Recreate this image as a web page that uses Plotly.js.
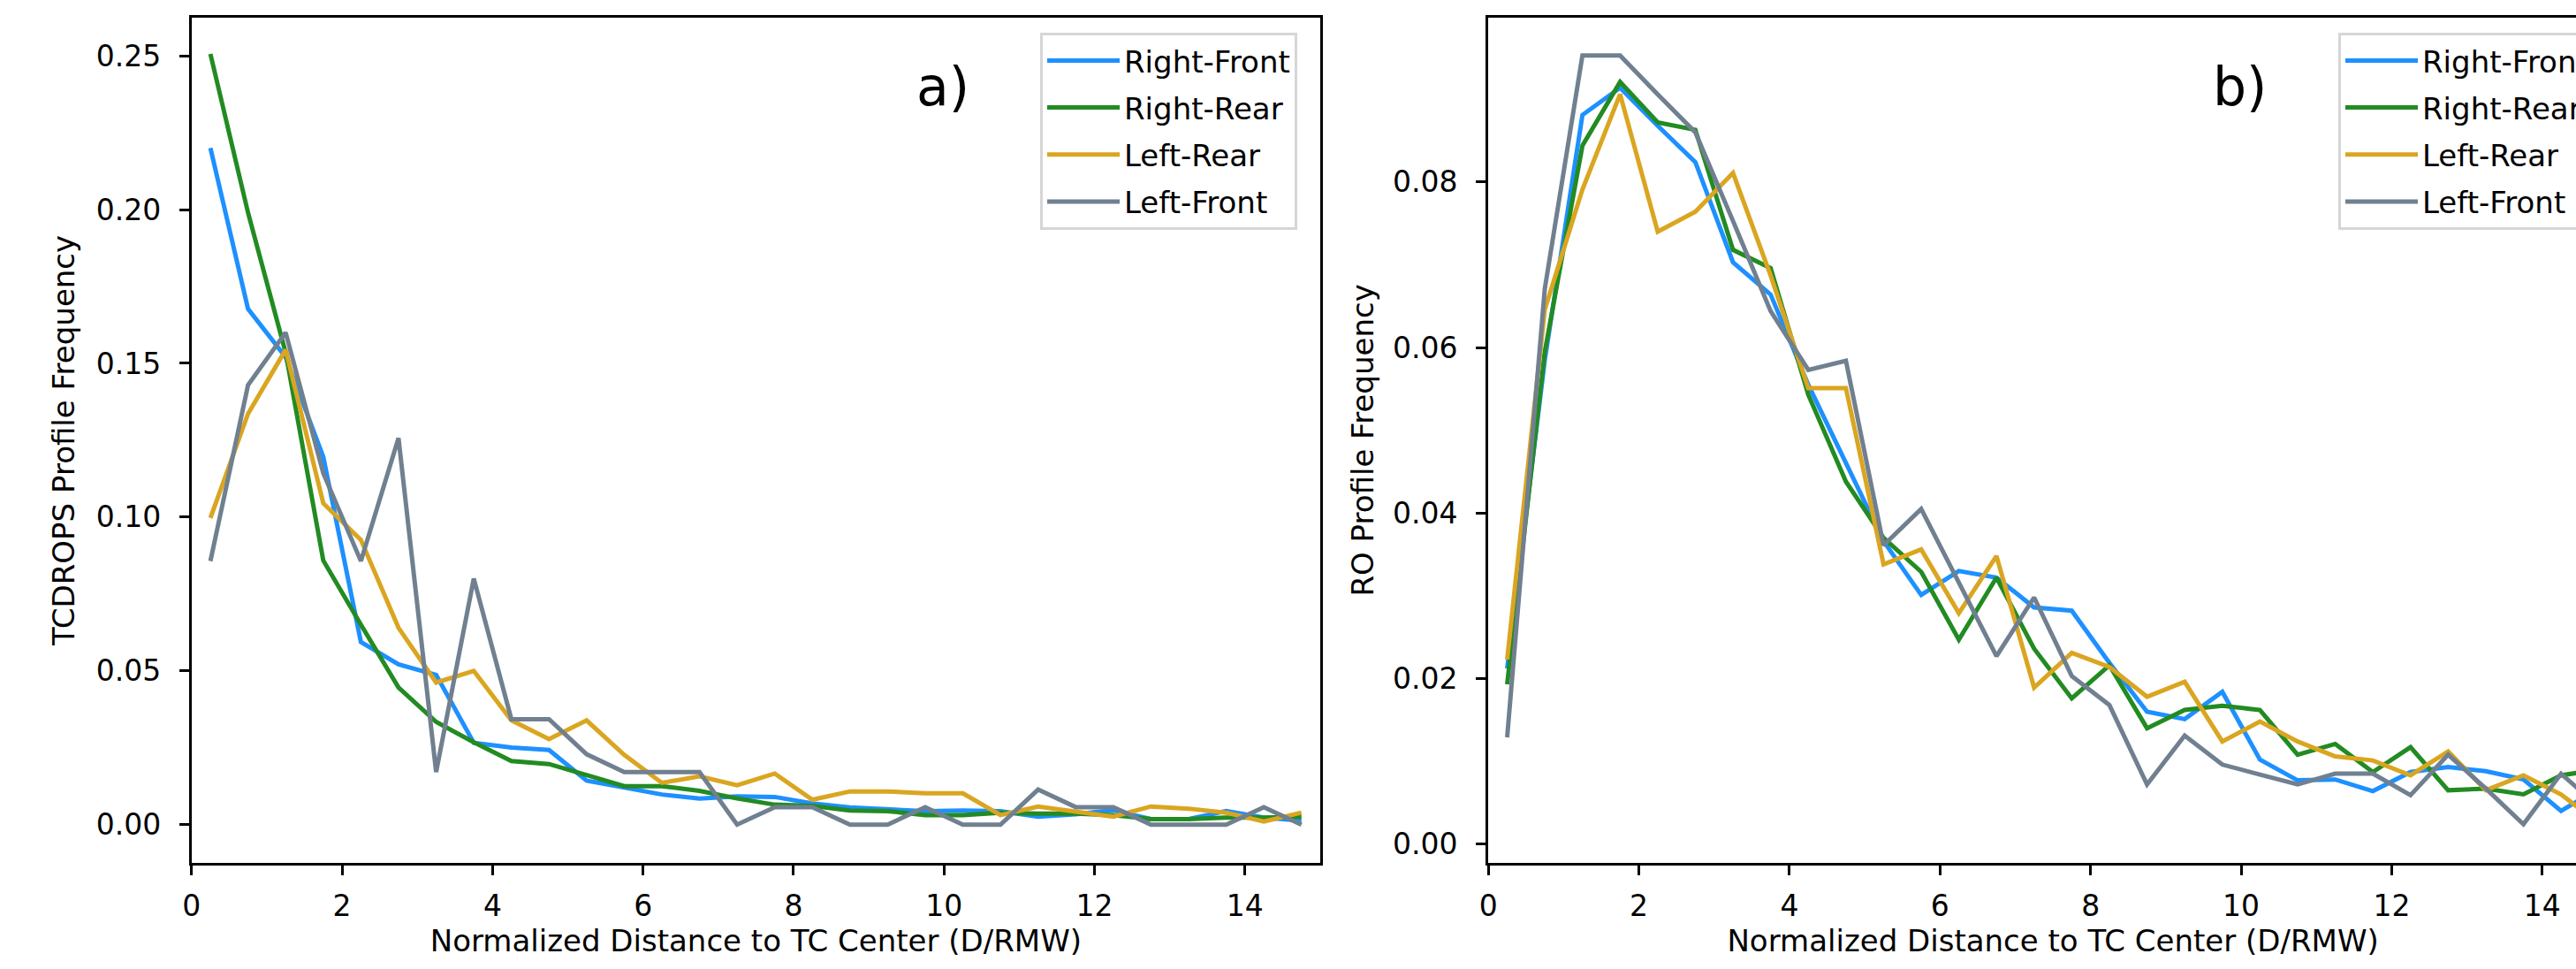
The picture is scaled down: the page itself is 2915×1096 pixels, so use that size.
<!DOCTYPE html>
<html>
<head>
<meta charset="utf-8">
<script src="https://cdn.plot.ly/plotly-3.0.1.min.js"></script>
<style>
  html, body { margin: 0; padding: 0; overflow: hidden; background: #ffffff; }
  #chart { width: 3000px; height: 1096px; }
</style>
</head>
<body>
<div id="chart"></div>
<script>
// Normalized distance bins (D/RMW)
const distance = [0.25, 0.75, 1.25, 1.75, 2.25, 2.75, 3.25, 3.75, 4.25, 4.75,
                  5.25, 5.75, 6.25, 6.75, 7.25, 7.75, 8.25, 8.75, 9.25, 9.75,
                  10.25, 10.75, 11.25, 11.75, 12.25, 12.75, 13.25, 13.75, 14.25, 14.75];

const seriesNames = ["Right-Front", "Right-Rear", "Left-Rear", "Left-Front"];

// Panel a) TCDROPS profile frequency
const dropsRightFront = [0.220, 0.1677, 0.152, 0.1196, 0.0594, 0.0521, 0.0487, 0.0266, 0.0251, 0.0243,
                         0.0143, 0.0120, 0.0098, 0.0085, 0.0092, 0.0090, 0.0069, 0.0056, 0.0051, 0.0044,
                         0.0046, 0.0044, 0.0026, 0.0034, 0.0047, 0.0018, 0.0018, 0.0044, 0.0023, 0.0013];
const dropsRightRear  = [0.2506, 0.1990, 0.1535, 0.0859, 0.0650, 0.0446, 0.0334, 0.0268, 0.0207, 0.0197,
                         0.0161, 0.0125, 0.0125, 0.0110, 0.0085, 0.0065, 0.0061, 0.0046, 0.0044, 0.0031,
                         0.0031, 0.0039, 0.0036, 0.0036, 0.0031, 0.0018, 0.0018, 0.0023, 0.0023, 0.0026];
const dropsLeftRear   = [0.0997, 0.1336, 0.1544, 0.1045, 0.0926, 0.0640, 0.0462, 0.0500, 0.0339, 0.0278,
                         0.0339, 0.0227, 0.0136, 0.0157, 0.0128, 0.0166, 0.0081, 0.0108, 0.0108, 0.0102,
                         0.0102, 0.0031, 0.0059, 0.0044, 0.0026, 0.0059, 0.0052, 0.0039, 0.0010, 0.0039];
const dropsLeftFront  = [0.0857, 0.1429, 0.1600, 0.1143, 0.0857, 0.1257, 0.0171, 0.0800, 0.0343, 0.0343,
                         0.0229, 0.0171, 0.0171, 0.0171, 0.0000, 0.0057, 0.0057, 0.0000, 0.0000, 0.0057,
                         0.0000, 0.0000, 0.0114, 0.0057, 0.0057, 0.0000, 0.0000, 0.0000, 0.0057, 0.0000];

// Panel b) RO profile frequency
const roRightFront = [0.0212, 0.0585, 0.0881, 0.0914, 0.0868, 0.0824, 0.0703, 0.0664, 0.0555, 0.0461,
                      0.0366, 0.0301, 0.0330, 0.0322, 0.0286, 0.0282, 0.0219, 0.0160, 0.0151, 0.0184,
                      0.0102, 0.0077, 0.0078, 0.0064, 0.0087, 0.0093, 0.0088, 0.0078, 0.0040, 0.0067];
const roRightRear  = [0.0193, 0.0595, 0.0844, 0.0921, 0.0872, 0.0863, 0.0718, 0.0696, 0.0543, 0.0438,
                      0.0370, 0.0329, 0.0247, 0.0322, 0.0236, 0.0176, 0.0216, 0.0140, 0.0162, 0.0167,
                      0.0162, 0.0108, 0.0121, 0.0087, 0.0117, 0.0065, 0.0067, 0.0060, 0.0083, 0.0090];
const roLeftRear   = [0.0223, 0.0646, 0.0791, 0.0906, 0.0740, 0.0764, 0.0811, 0.0687, 0.0551, 0.0551,
                      0.0338, 0.0356, 0.0279, 0.0348, 0.0189, 0.0231, 0.0214, 0.0178, 0.0196, 0.0124,
                      0.0148, 0.0124, 0.0106, 0.0101, 0.0083, 0.0112, 0.0065, 0.0083, 0.0060, 0.0025];
const roLeftFront  = [0.0129, 0.0671, 0.0953, 0.0953, 0.0906, 0.0860, 0.0753, 0.0644, 0.0573, 0.0584,
                      0.0361, 0.0405, 0.0316, 0.0227, 0.0298, 0.0203, 0.0168, 0.0072, 0.0131, 0.0096,
                      0.0084, 0.0072, 0.0085, 0.0085, 0.0059, 0.0108, 0.0067, 0.0024, 0.0085, 0.0045];

const xTickVals = [0, 2, 4, 6, 8, 10, 12, 14];
const yTickValsA = [0.00, 0.05, 0.10, 0.15, 0.20, 0.25];
const yTickValsB = [0.00, 0.02, 0.04, 0.06, 0.08];

const colors = ["#1E90FF", "#228B22", "#DAA520", "#708090"];
const FONT = "DejaVu Sans, Liberation Sans, sans-serif";

const panelA = [dropsRightFront, dropsRightRear, dropsLeftRear, dropsLeftFront];
const panelB = [roRightFront, roRightRear, roLeftRear, roLeftFront];

const traces = [];
panelA.forEach((ys, i) => {
  traces.push({
    type: "scatter", mode: "lines", x: distance, y: ys, name: seriesNames[i],
    xaxis: "x", yaxis: "y", legend: "legend", legendgroup: "a" + i,
    line: { color: colors[i], width: 5 }
  });
});
panelB.forEach((ys, i) => {
  traces.push({
    type: "scatter", mode: "lines", x: distance, y: ys, name: seriesNames[i],
    xaxis: "x2", yaxis: "y2", legend: "legend2", legendgroup: "b" + i,
    line: { color: colors[i], width: 5 }
  });
});

const W = 3000, H = 1096;
const yDom = [(H - 976.2) / H, (H - 19.6) / H];

function xAxis(domain, anchor) {
  return {
    domain: domain, anchor: anchor, range: [0, 15],
    tickmode: "array", tickvals: xTickVals, ticktext: xTickVals.map(String),
    ticks: "outside", ticklen: 11, tickwidth: 3, tickcolor: "#000",
    showline: true, mirror: true, linewidth: 3, linecolor: "#000",
    showgrid: false, zeroline: false, automargin: false,
    ticklabelstandoff: 6,
    tickfont: { family: FONT, size: 33, color: "#000" },
    title: { text: "Normalized Distance to TC Center (D/RMW)", standoff: 10,
             font: { family: FONT, size: 34, color: "#000" } }
  };
}
function yAxis(domain, anchor, range, tickvals, title, standoff) {
  return {
    domain: domain, anchor: anchor, range: range,
    tickmode: "array", tickvals: tickvals, ticktext: tickvals.map(v => v.toFixed(2)),
    ticks: "outside", ticklen: 11, tickwidth: 3, tickcolor: "#000",
    showline: true, mirror: true, linewidth: 3, linecolor: "#000",
    showgrid: false, zeroline: false, automargin: false,
    ticklabelstandoff: 14,
    tickfont: { family: FONT, size: 33, color: "#000" },
    title: { text: title, standoff: standoff, font: { family: FONT, size: 34, color: "#000" } }
  };
}

function legendCfg(xRight) {
  return {
    x: xRight / W, xanchor: "right", y: (H - 36.8) / H, yanchor: "top",
    bgcolor: "rgba(255,255,255,0.8)", bordercolor: "#d6d6d6", borderwidth: 3,
    font: { family: FONT, size: 34, color: "#000" },
    itemwidth: 82, tracegroupgap: 6, traceorder: "grouped"
  };
}

const layout = {
  width: W, height: H,
  margin: { l: 0, r: 0, t: 0, b: 0 },
  paper_bgcolor: "#ffffff", plot_bgcolor: "#ffffff",
  showlegend: true,
  font: { family: FONT, color: "#000" },
  xaxis: xAxis([216.8 / W, 1494 / W], "y"),
  yaxis: yAxis(yDom, "x", [-0.0125, 0.2625], yTickValsA, "TCDROPS Profile Frequency", 14),
  xaxis2: xAxis([1684.2 / W, 2962 / W], "y2"),
  yaxis2: yAxis(yDom, "x2", [-0.0023, 0.0999], yTickValsB, "RO Profile Frequency", 12),
  legend: legendCfg(1468),
  legend2: legendCfg(2937),
  annotations: [
    { text: "a)", xref: "paper", yref: "paper", x: 1035 / W, xanchor: "left",
      y: (H - 98) / H, yanchor: "middle", showarrow: false,
      font: { family: FONT, size: 60, color: "#000" } },
    { text: "b)", xref: "paper", yref: "paper", x: 2502 / W, xanchor: "left",
      y: (H - 98) / H, yanchor: "middle", showarrow: false,
      font: { family: FONT, size: 60, color: "#000" } }
  ]
};

Plotly.newPlot("chart", traces, layout, { staticPlot: true, displayModeBar: false });
</script>
</body>
</html>
